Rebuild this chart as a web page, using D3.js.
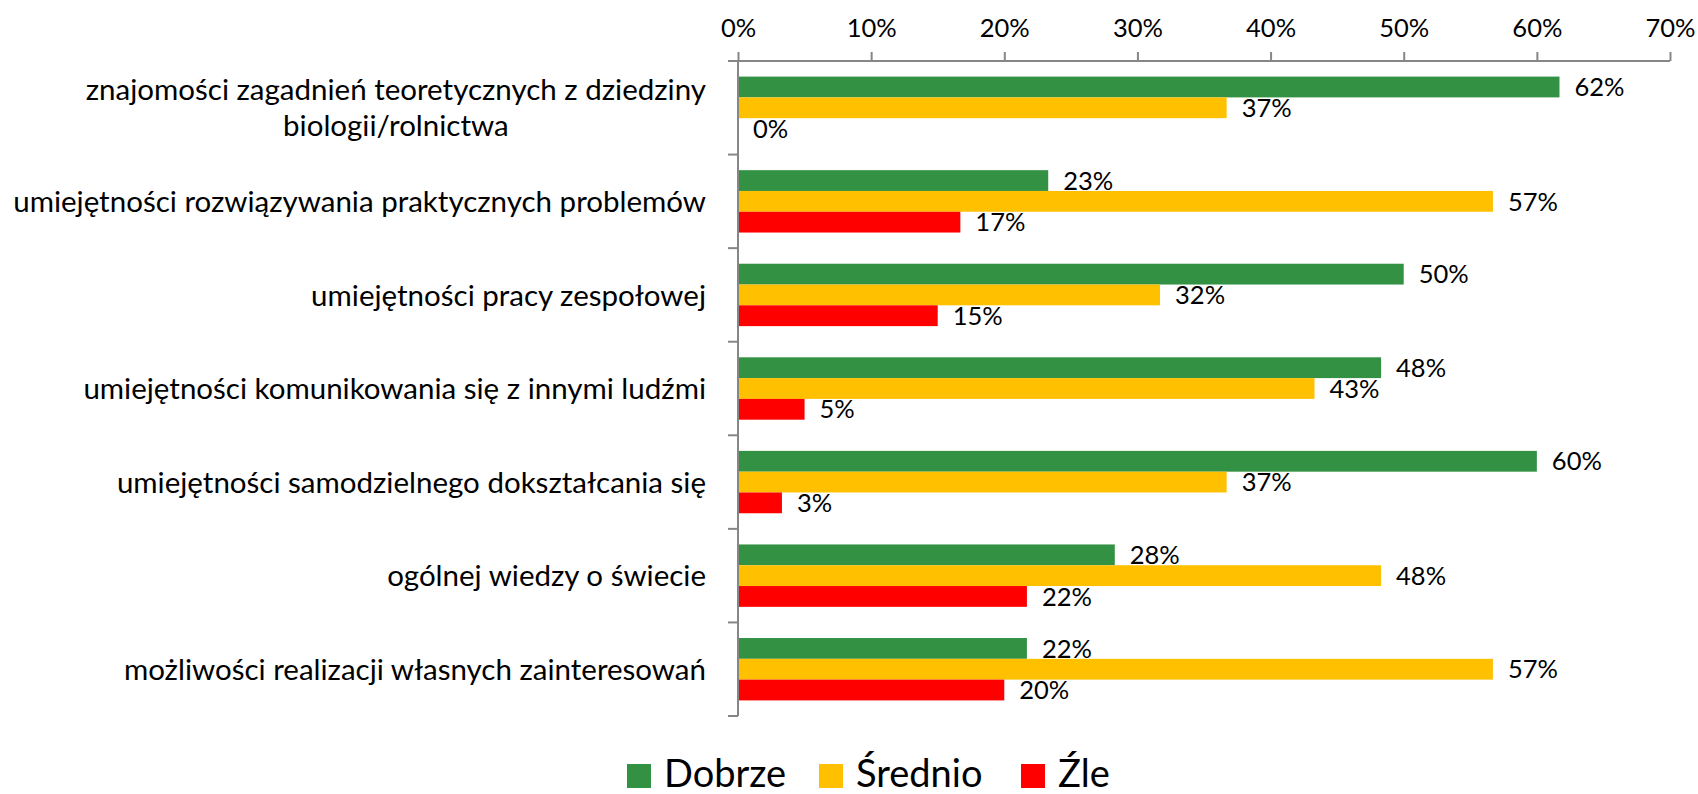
<!DOCTYPE html>
<html>
<head>
<meta charset="utf-8">
<script src="https://cdn.jsdelivr.net/npm/d3@7"></script>
<style>
  body { margin: 0; background: #fff; }
  text { font-family: Lato, "Open Sans", sans-serif; fill: #000; }
</style>
</head>
<body>
<svg id="main_svg" width="1698" height="794"></svg>
<script>
const categories = [
  ["znajomości zagadnień teoretycznych z dziedziny", "biologii/rolnictwa"],
  ["umiejętności rozwiązywania praktycznych problemów"],
  ["umiejętności pracy zespołowej"],
  ["umiejętności komunikowania się z innymi ludźmi"],
  ["umiejętności samodzielnego dokształcania się"],
  ["ogólnej wiedzy o świecie"],
  ["możliwości realizacji własnych zainteresowań"]
];
const seriesNames = ["Dobrze", "Średnio", "Źle"];
const seriesColors = ["#339144", "#FFC000", "#FF0000"];
const dobrze  = [61.7, 23.3, 50.0, 48.3, 60.0, 28.3, 21.7];
const srednio = [36.7, 56.7, 31.7, 43.3, 36.7, 48.3, 56.7];
const zle     = [0.0, 16.7, 15.0, 5.0, 3.3, 21.7, 20.0];
const xTicks = [0, 10, 20, 30, 40, 50, 60, 70];

const series = [dobrze, srednio, zle];
const axisColor = "#868686";
const plotLeft = 738, plotRight = 1670, plotTop = 61, plotBottom = 716;
const smallFont = 25.5, catFont = 29.5, legendFont = 38;

const svg = d3.select("#main_svg");
const x = d3.scaleLinear().domain([0, 70]).range([plotLeft, plotRight]);
const y = d3.scaleBand().domain(d3.range(categories.length)).range([plotTop, plotBottom]);
const inner = d3.scaleBand().domain(d3.range(series.length))
  .range([y.bandwidth() / 6, y.bandwidth() * 5 / 6]);

// bars + value labels
series.forEach((vals, s) => {
  const g = svg.append("g");
  g.selectAll("rect").data(vals).enter().append("rect")
    .attr("x", x(0))
    .attr("y", (d, i) => y(i) + inner(s))
    .attr("width", d => x(d) - x(0))
    .attr("height", inner.bandwidth())
    .attr("fill", seriesColors[s]);
  g.selectAll("text").data(vals).enter().append("text")
    .attr("x", d => x(d) + 15)
    .attr("y", (d, i) => y(i) + inner(s) + inner.bandwidth() / 2)
    .attr("dy", "0.36em")
    .attr("font-size", smallFont)
    .text(d => d3.format(".0%")(d / 100));
});

// top value axis
const xAxis = svg.append("g").attr("transform", `translate(0,${plotTop})`)
  .call(d3.axisTop(x).tickValues(xTicks).tickFormat(d => d + "%").tickSize(9).tickPadding(15).tickSizeOuter(0));
xAxis.select(".domain").attr("stroke", axisColor).attr("stroke-width", 2)
  .attr("d", `M${plotLeft - 10},0H${plotRight}`);
xAxis.selectAll(".tick line").attr("stroke", axisColor).attr("stroke-width", 2);
xAxis.selectAll(".tick text").attr("font-size", smallFont).attr("fill", "#000")
  .style("font-family", "Lato, 'Open Sans', sans-serif");

// category axis
const catG = svg.append("g");
catG.append("line").attr("x1", plotLeft).attr("x2", plotLeft).attr("y1", plotTop).attr("y2", plotBottom)
  .attr("stroke", axisColor).attr("stroke-width", 2);
catG.selectAll(".sep").data(d3.range(categories.length + 1)).enter().append("line")
  .attr("x1", plotLeft - 10).attr("x2", plotLeft)
  .attr("y1", i => plotTop + i * y.step()).attr("y2", i => plotTop + i * y.step())
  .attr("stroke", axisColor).attr("stroke-width", 2);

const lineH = 36;
categories.forEach((lines, i) => {
  const cy = y(i) + y.bandwidth() / 2;
  const t = catG.append("text").attr("text-anchor", "end").attr("font-size", catFont);
  lines.forEach((ln, k) => {
    t.append("tspan")
      .attr("x", 706)
      .attr("y", cy + (k - (lines.length - 1) / 2) * lineH)
      .attr("dy", "0.36em")
      .text(ln);
  });
  if (lines.length > 1) {
    // wrapped label is centred on its widest line
    const b = t.node().getBBox();
    t.attr("text-anchor", "middle").selectAll("tspan").attr("x", b.x + b.width / 2);
  }
});

// legend
const legendX = [627, 819, 1021];
const lg = svg.append("g");
lg.selectAll("rect").data(seriesNames).enter().append("rect")
  .attr("x", (d, i) => legendX[i]).attr("y", 764).attr("width", 24).attr("height", 24)
  .attr("fill", (d, i) => seriesColors[i]);
lg.selectAll("text").data(seriesNames).enter().append("text")
  .attr("x", (d, i) => legendX[i] + 37).attr("y", 787)
  .attr("font-size", legendFont)
  .text(d => d);
</script>
</body>
</html>
